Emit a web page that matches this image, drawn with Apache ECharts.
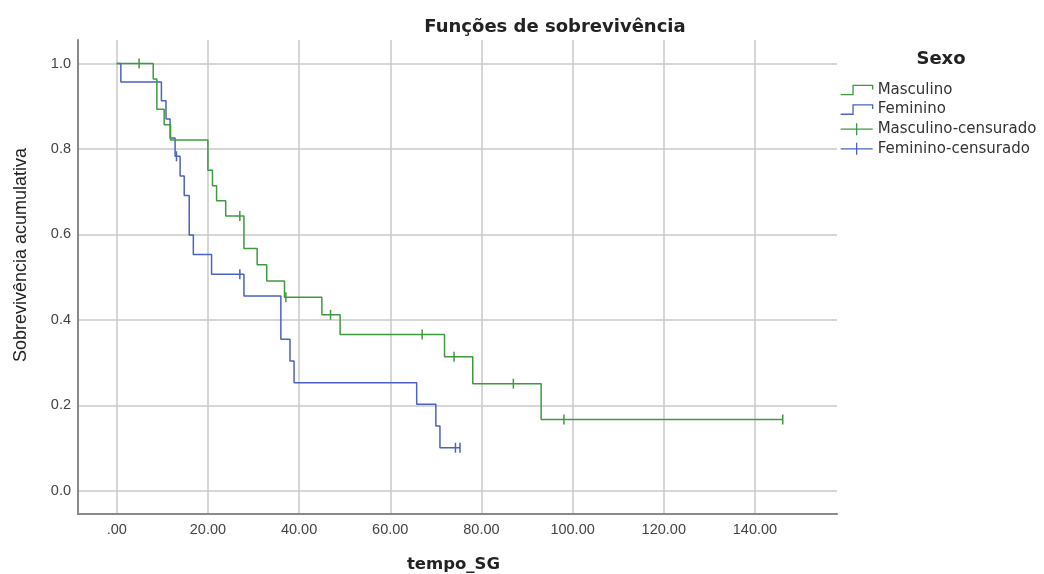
<!DOCTYPE html>
<html>
<head>
<meta charset="utf-8">
<script src="https://cdn.jsdelivr.net/npm/echarts@6.0.0/dist/echarts.min.js"></script>
<style>
  html, body { margin: 0; padding: 0; background: #fff; }
  #chart { width: 1044px; height: 574px; }
</style>
</head>
<body>
<div id="chart"></div>
<script>
// curvas de sobrevivência (Kaplan-Meier)
const mascTempo = [0, 8.0, 8.8, 10.4, 11.8, 20.0, 21.0, 21.9, 23.9, 27.9, 30.8, 32.9, 36.8, 45.0, 49.0, 71.9, 78.1, 93.1, 146.1];
const mascSobrev = [1.0, 0.964, 0.893, 0.857, 0.821, 0.750, 0.714, 0.679, 0.643, 0.567, 0.529, 0.491, 0.453, 0.412, 0.366, 0.314, 0.251, 0.167, 0.167];
const mascCensTempo = [4.9, 27.0, 37.1, 46.9, 67.0, 74.0, 87.0, 98.1, 146.1];
const mascCensSobrev = [1.0, 0.643, 0.453, 0.412, 0.366, 0.314, 0.251, 0.167, 0.167];

const femTempo = [0, 0.9, 9.8, 10.8, 11.7, 12.8, 13.9, 14.8, 15.9, 16.8, 20.8, 27.9, 36.0, 38.0, 38.9, 65.8, 70.0, 70.9, 75.3];
const femSobrev = [1.0, 0.957, 0.913, 0.870, 0.826, 0.783, 0.737, 0.691, 0.599, 0.553, 0.507, 0.456, 0.355, 0.304, 0.253, 0.203, 0.152, 0.101, 0.101];
const femCensTempo = [13.1, 27.0, 74.3, 75.3];
const femCensSobrev = [0.783, 0.507, 0.101, 0.101];

const xTicks = [0, 20, 40, 60, 80, 100, 120, 140];
const xTickLabels = ['.00', '20.00', '40.00', '60.00', '80.00', '100.00', '120.00', '140.00'];
const yTicks = [0, 0.2, 0.4, 0.6, 0.8, 1.0];
const yTickLabels = ['0.0', '0.2', '0.4', '0.6', '0.8', '1.0'];

const verde = '#3f9a3f';
const azul = '#4a62c2';
const fonte = '"Liberation Sans", Arial, sans-serif';
const fonteLarga = '"DejaVu Sans", sans-serif';

function pares(xs, ys) {
  return xs.map((x, i) => [x, ys[i]]);
}

const iconeDegrau = 'path://M0,12 L12,12 L12,3 L31,3 L31,7';
const iconeCensura = 'path://M0,6 L32,6 M16,0 L16,12';

var myChart = echarts.init(document.getElementById('chart'));
var option = {
  animation: false,
  title: [
    {
      text: 'Funções de sobrevivência',
      left: 550, top: 13, textAlign: 'center',
      textStyle: { fontFamily: fonteLarga, fontSize: 18, fontWeight: 'bold', color: '#222' }
    },
    {
      text: 'Sexo',
      left: 936, top: 45, textAlign: 'center',
      textStyle: { fontFamily: fonteLarga, fontSize: 18, fontWeight: 'bold', color: '#222' }
    }
  ],
  legend: {
    orient: 'vertical',
    left: 835, top: 77,
    itemWidth: 32, itemHeight: 12, itemGap: 3.6,
    textStyle: { fontFamily: fonteLarga, fontSize: 15, lineHeight: 16, color: '#333' },
    data: [
      { name: 'Masculino', icon: iconeDegrau, itemStyle: { color: 'rgba(0,0,0,0)', borderColor: verde, borderWidth: 1.3 } },
      { name: 'Feminino', icon: iconeDegrau, itemStyle: { color: 'rgba(0,0,0,0)', borderColor: azul, borderWidth: 1.3 } },
      { name: 'Masculino-censurado', icon: iconeCensura, itemStyle: { color: 'rgba(0,0,0,0)', borderColor: verde, borderWidth: 1.3 } },
      { name: 'Feminino-censurado', icon: iconeCensura, itemStyle: { color: 'rgba(0,0,0,0)', borderColor: azul, borderWidth: 1.3 } }
    ]
  },
  grid: { left: 78, top: 40, right: 207, bottom: 60, outerBoundsMode: 'none' },
  xAxis: {
    type: 'value',
    min: -8.5, max: 158,
    name: 'tempo_SG',
    nameLocation: 'middle',
    nameGap: 42,
    nameTextStyle: { fontFamily: fonteLarga, fontSize: 16.5, fontWeight: 'bold', color: '#222', padding: [0, 8, 0, 0] },
    axisLine: { onZero: false, lineStyle: { color: '#8a8a8a', width: 2 } },
    axisTick: { show: false, customValues: xTicks },
    axisLabel: {
      customValues: xTicks,
      margin: 8,
      fontFamily: fonte, fontSize: 14.5, color: '#444',
      formatter: v => xTickLabels[xTicks.indexOf(v)]
    },
    splitLine: { show: true, lineStyle: { color: '#c8c8c8', width: 1.5 } }
  },
  yAxis: {
    type: 'value',
    min: -0.054, max: 1.055,
    name: 'Sobrevivência acumulativa',
    nameLocation: 'middle',
    nameGap: 48,
    nameTextStyle: { fontFamily: fonte, fontSize: 18, color: '#222', padding: [0, 0, 0, 44] },
    axisLine: { show: true, onZero: false, lineStyle: { color: '#8a8a8a', width: 2 } },
    axisTick: { show: false, customValues: yTicks },
    axisLabel: {
      customValues: yTicks,
      margin: 7,
      fontFamily: fonte, fontSize: 14.5, color: '#444',
      formatter: v => yTickLabels[yTicks.indexOf(v)]
    },
    splitLine: { show: true, lineStyle: { color: '#c8c8c8', width: 1.5 } }
  },
  series: [
    {
      name: 'Masculino', type: 'line', step: 'end', showSymbol: false,
      data: pares(mascTempo, mascSobrev),
      lineStyle: { color: verde, width: 1.5 }, itemStyle: { color: verde }, z: 3
    },
    {
      name: 'Feminino', type: 'line', step: 'end', showSymbol: false,
      data: pares(femTempo, femSobrev),
      lineStyle: { color: azul, width: 1.5 }, itemStyle: { color: azul }, z: 2
    },
    {
      name: 'Masculino-censurado', type: 'scatter',
      symbol: 'rect', symbolSize: [1.5, 10],
      data: pares(mascCensTempo, mascCensSobrev),
      itemStyle: { color: verde, opacity: 1 }, z: 4
    },
    {
      name: 'Feminino-censurado', type: 'scatter',
      symbol: 'rect', symbolSize: [1.5, 10],
      data: pares(femCensTempo, femCensSobrev),
      itemStyle: { color: azul, opacity: 1 }, z: 4
    }
  ]
};
myChart.setOption(option);
</script>
</body>
</html>
